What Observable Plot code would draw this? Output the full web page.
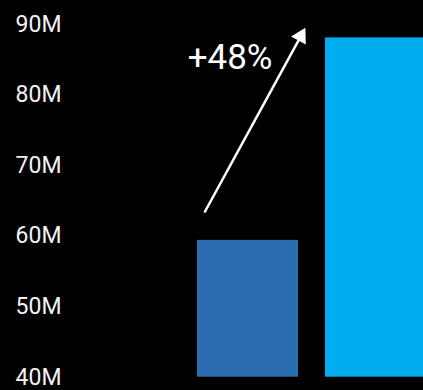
<!DOCTYPE html>
<html><head><meta charset="utf-8">
<script src="https://cdn.jsdelivr.net/npm/d3@7"></script>
<script src="https://cdn.jsdelivr.net/npm/@observablehq/plot@0.6"></script>
<style>html,body{margin:0;padding:0;background:#000;overflow:hidden}</style>
</head><body><div id="chart"></div>
<script>
const categories = ["Before", "After"];
const values = [59.4, 88.1];
const barColors = ["#2a6eb1", "#00aeef"];
const yTicks = [40, 50, 60, 70, 80, 90];
const changeLabel = "+48%";
// annotation anchors in data units (x: category index, y: millions)
const arrowFromX = [-0.34], arrowFromY = [63.35];
const arrowToX = [0.412], arrowToY = [88.33];
const labelX = [-0.14], labelY = [85.35];

const bw = 0.789;
const bars = categories.map((c, i) => ({c, i, v: values[i], color: barColors[i]}));
const arrow = [{x1: arrowFromX[0], y1: arrowFromY[0], x2: arrowToX[0], y2: arrowToY[0]}];
const angle = Math.atan2((arrow[0].x2 - arrow[0].x1) * 128, (arrow[0].y2 - arrow[0].y1) * 7.054) * 180 / Math.PI;

const chart = Plot.plot({
  width: 423, height: 390,
  marginLeft: 119.5, marginRight: 0.5, marginTop: 24, marginBottom: 13.3,
  style: {background: "#000", color: "#f2f2f2", fontFamily: "Roboto, sans-serif"},
  x: {type: "linear", domain: [-1, 1.367], axis: null},
  y: {domain: [40, 90]},
  marks: [
    Plot.rectY(bars, {x1: d => d.i - bw / 2, x2: d => d.i + bw / 2, y1: 40, y2: "v", fill: d => d.color}),
    Plot.axisY({ticks: yTicks, tickFormat: d => d + "M", tickSize: 0, tickPadding: 58.5, fontSize: 23, fill: "#f2f2f2"}),
    Plot.link(arrow, {x1: "x1", y1: "y1", x2: "x2", y2: "y2", stroke: "white", strokeWidth: 2.5}),
    Plot.dot(arrow, {x: "x2", y: "y2", symbol: "triangle", r: 6.2, rotate: angle, fill: "white", stroke: "none"}),
    Plot.text([{x: labelX[0], y: labelY[0], t: changeLabel}], {x: "x", y: "y", text: "t", fontSize: 35, fill: "white", textAnchor: "middle"})
  ]
});
document.getElementById("chart").append(chart);
</script>
</body></html>
